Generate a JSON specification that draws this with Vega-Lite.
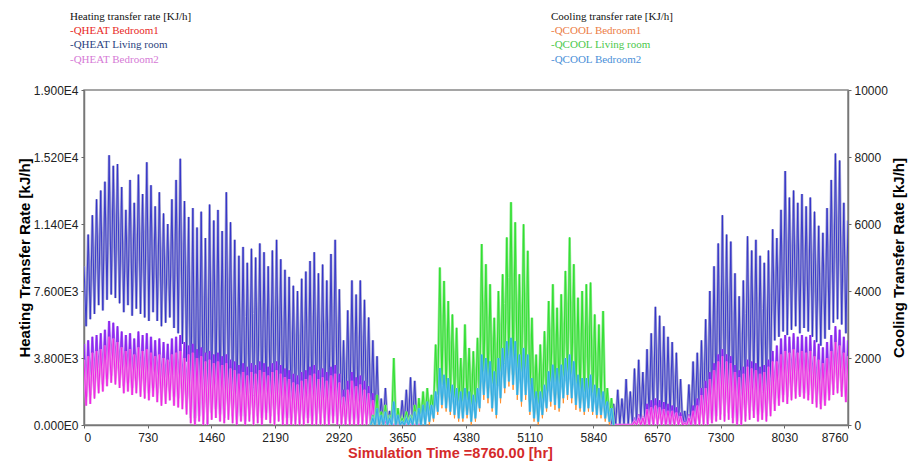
{
"$schema":"https://vega.github.io/schema/vega-lite/v6.json",
"autosize":{"type":"none"},
"padding":{"left":84,"top":90,"right":63,"bottom":38},
"width":764,"height":335,
"background":"white",
"datasets":{
"heat":[
{"t":0,"L":9000,"A":4600,"B":3700},{"t":24,"L":5600,"A":1600,"B":1100},{"t":48,"L":10800,"A":4800,"B":3900},{"t":72,"L":6000,"A":1700,"B":1200},{"t":96,"L":11900,"A":5000,"B":4100},{"t":120,"L":6300,"A":2000,"B":1500},{"t":144,"L":12800,"A":5100,"B":4200},{"t":168,"L":6800,"A":2200,"B":1800},{"t":192,"L":13300,"A":5200,"B":4300},{"t":216,"L":6500,"A":2300,"B":1900},{"t":240,"L":13800,"A":5400,"B":4500},{"t":264,"L":7100,"A":2600,"B":2200},{"t":288,"L":15300,"A":5900,"B":5000},{"t":312,"L":7400,"A":2800,"B":2400},{"t":336,"L":14700,"A":5800,"B":4900},{"t":360,"L":7200,"A":2700,"B":2300},{"t":384,"L":14800,"A":5600,"B":4700},{"t":408,"L":6900,"A":2500,"B":2100},{"t":432,"L":13500,"A":5300,"B":4400},{"t":456,"L":6400,"A":2200,"B":1800},{"t":480,"L":12200,"A":5100,"B":4200},{"t":504,"L":6800,"A":2400,"B":1900},{"t":528,"L":13900,"A":5200,"B":4300},{"t":552,"L":6200,"A":2100,"B":1700},{"t":576,"L":12600,"A":4900,"B":4000},{"t":600,"L":6600,"A":2300,"B":1800},{"t":624,"L":14200,"A":5300,"B":4400},{"t":648,"L":6300,"A":2000,"B":1600},{"t":672,"L":13100,"A":5100,"B":4200},{"t":696,"L":6100,"A":1900,"B":1500},{"t":720,"L":14900,"A":5200,"B":4300},{"t":744,"L":5900,"A":1800,"B":1400},{"t":768,"L":13600,"A":5000,"B":4100},{"t":792,"L":6400,"A":2100,"B":1600},{"t":816,"L":12400,"A":4800,"B":3900},{"t":840,"L":5900,"A":1800,"B":1300},{"t":864,"L":13200,"A":4900,"B":4000},{"t":888,"L":5600,"A":1600,"B":1100},{"t":912,"L":12000,"A":4700,"B":3800},{"t":936,"L":5800,"A":1700,"B":1200},{"t":960,"L":11400,"A":4600,"B":3700},{"t":984,"L":6100,"A":1900,"B":1400},{"t":1008,"L":12800,"A":4900,"B":4000},{"t":1032,"L":5500,"A":1600,"B":1100},{"t":1056,"L":13900,"A":5000,"B":4100},{"t":1080,"L":5200,"A":1500,"B":1000},{"t":1104,"L":15100,"A":5100,"B":4200},{"t":1128,"L":4600,"A":1400,"B":900},{"t":1152,"L":12700,"A":4700,"B":3800},{"t":1176,"L":3600,"A":1000,"B":600},{"t":1200,"L":11800,"A":4500,"B":4000},{"t":1224,"L":900,"A":400,"B":100},{"t":1248,"L":12300,"A":4600,"B":4100},{"t":1272,"L":400,"A":200,"B":0},{"t":1296,"L":11200,"A":4300,"B":3800},{"t":1320,"L":1200,"A":500,"B":200},{"t":1344,"L":12100,"A":4400,"B":3900},{"t":1368,"L":600,"A":300,"B":0},{"t":1392,"L":10600,"A":4100,"B":3600},{"t":1416,"L":0,"A":100,"B":0},{"t":1440,"L":12500,"A":4200,"B":3700},{"t":1464,"L":1500,"A":700,"B":300},{"t":1488,"L":11600,"A":4000,"B":3500},{"t":1512,"L":1800,"A":900,"B":400},{"t":1536,"L":12200,"A":4100,"B":3600},{"t":1560,"L":1300,"A":600,"B":200},{"t":1584,"L":11000,"A":3900,"B":3400},{"t":1608,"L":900,"A":400,"B":100},{"t":1632,"L":13200,"A":4000,"B":3500},{"t":1656,"L":1600,"A":800,"B":300},{"t":1680,"L":11500,"A":3700,"B":3200},{"t":1704,"L":1000,"A":500,"B":100},{"t":1728,"L":10500,"A":3600,"B":3100},{"t":1752,"L":700,"A":300,"B":0},{"t":1776,"L":9600,"A":3400,"B":2900},{"t":1800,"L":1100,"A":500,"B":200},{"t":1824,"L":10100,"A":3500,"B":3000},{"t":1848,"L":500,"A":200,"B":0},{"t":1872,"L":9200,"A":3300,"B":2800},{"t":1896,"L":1400,"A":600,"B":200},{"t":1920,"L":10000,"A":3500,"B":3000},{"t":1944,"L":800,"A":400,"B":0},{"t":1968,"L":9500,"A":3400,"B":2900},{"t":1992,"L":1200,"A":500,"B":100},{"t":2016,"L":10300,"A":3600,"B":3100},{"t":2040,"L":900,"A":400,"B":0},{"t":2064,"L":9800,"A":3500,"B":3000},{"t":2088,"L":1500,"A":700,"B":300},{"t":2112,"L":9000,"A":3300,"B":2800},{"t":2136,"L":1100,"A":500,"B":100},{"t":2160,"L":9900,"A":3500,"B":3000},{"t":2184,"L":700,"A":300,"B":0},{"t":2208,"L":10500,"A":3600,"B":3100},{"t":2232,"L":1300,"A":600,"B":200},{"t":2256,"L":9400,"A":3400,"B":2900},{"t":2280,"L":600,"A":300,"B":0},{"t":2304,"L":8800,"A":3200,"B":2700},{"t":2328,"L":1000,"A":400,"B":0},{"t":2352,"L":8400,"A":3100,"B":2600},{"t":2376,"L":400,"A":200,"B":0},{"t":2400,"L":7900,"A":2900,"B":2400},{"t":2424,"L":800,"A":300,"B":0},{"t":2448,"L":7600,"A":2800,"B":2300},{"t":2472,"L":300,"A":100,"B":0},{"t":2496,"L":8300,"A":3000,"B":2500},{"t":2520,"L":700,"A":300,"B":0},{"t":2544,"L":8700,"A":3100,"B":2600},{"t":2568,"L":1000,"A":400,"B":100},{"t":2592,"L":9300,"A":3300,"B":2800},{"t":2616,"L":500,"A":200,"B":0},{"t":2640,"L":9800,"A":3400,"B":2900},{"t":2664,"L":800,"A":300,"B":0},{"t":2688,"L":8600,"A":3100,"B":2600},{"t":2712,"L":400,"A":100,"B":0},{"t":2736,"L":9100,"A":3200,"B":2700},{"t":2760,"L":900,"A":400,"B":0},{"t":2784,"L":8200,"A":3000,"B":2500},{"t":2808,"L":600,"A":200,"B":0},{"t":2832,"L":9700,"A":3300,"B":2800},{"t":2856,"L":1100,"A":500,"B":100},{"t":2880,"L":10500,"A":3400,"B":2900},{"t":2904,"L":500,"A":200,"B":0},{"t":2928,"L":7700,"A":2900,"B":2400},{"t":2952,"L":300,"A":100,"B":0},{"t":2976,"L":4800,"A":2000,"B":1600},{"t":3000,"L":200,"A":0,"B":0},{"t":3024,"L":6500,"A":2500,"B":2000},{"t":3048,"L":600,"A":200,"B":0},{"t":3072,"L":8200,"A":3000,"B":2500},{"t":3096,"L":900,"A":300,"B":0},{"t":3120,"L":7400,"A":2700,"B":2200},{"t":3144,"L":400,"A":100,"B":0},{"t":3168,"L":8200,"A":2800,"B":2300},{"t":3192,"L":700,"A":200,"B":0},{"t":3216,"L":7100,"A":2500,"B":2000},{"t":3240,"L":300,"A":100,"B":0},{"t":3264,"L":6100,"A":2200,"B":1800},{"t":3288,"L":200,"A":0,"B":0},{"t":3312,"L":4800,"A":1800,"B":1400},{"t":3336,"L":100,"A":0,"B":0},{"t":3360,"L":3900,"A":1400,"B":1100},{"t":3384,"L":0,"A":0,"B":0},{"t":3408,"L":1500,"A":500,"B":400},{"t":3432,"L":0,"A":0,"B":0},{"t":3456,"L":2100,"A":300,"B":200},{"t":3480,"L":0,"A":0,"B":0},{"t":3504,"L":800,"A":0,"B":0},{"t":3528,"L":0,"A":0,"B":0},{"t":3552,"L":1200,"A":0,"B":0},{"t":3576,"L":0,"A":0,"B":0},{"t":3600,"L":600,"A":0,"B":0},{"t":3624,"L":0,"A":0,"B":0},{"t":3648,"L":1400,"A":0,"B":0},{"t":3672,"L":0,"A":0,"B":0},{"t":3696,"L":2000,"A":0,"B":0},{"t":3720,"L":0,"A":0,"B":0},{"t":3744,"L":2700,"A":0,"B":0},{"t":3768,"L":0,"A":0,"B":0},{"t":3792,"L":2500,"A":0,"B":0},{"t":3816,"L":0,"A":0,"B":0},{"t":3840,"L":1100,"A":0,"B":0},{"t":3864,"L":0,"A":0,"B":0},
{"t":4900,"L":null,"A":null,"B":null},
{"t":6048,"L":0,"A":0,"B":0},{"t":6072,"L":1200,"A":0,"B":0},{"t":6096,"L":0,"A":0,"B":0},{"t":6120,"L":2000,"A":0,"B":0},{"t":6144,"L":0,"A":0,"B":0},{"t":6168,"L":1500,"A":0,"B":0},{"t":6192,"L":0,"A":0,"B":0},{"t":6216,"L":2600,"A":0,"B":0},{"t":6240,"L":0,"A":0,"B":0},{"t":6264,"L":1900,"A":0,"B":0},{"t":6288,"L":0,"A":0,"B":0},{"t":6312,"L":3200,"A":300,"B":200},{"t":6336,"L":0,"A":0,"B":0},{"t":6360,"L":3700,"A":600,"B":400},{"t":6384,"L":200,"A":0,"B":0},{"t":6408,"L":3000,"A":500,"B":400},{"t":6432,"L":100,"A":0,"B":0},{"t":6456,"L":4300,"A":1200,"B":900},{"t":6480,"L":300,"A":0,"B":0},{"t":6504,"L":5200,"A":1400,"B":1000},{"t":6528,"L":400,"A":0,"B":0},{"t":6552,"L":6700,"A":1500,"B":1100},{"t":6576,"L":600,"A":100,"B":0},{"t":6600,"L":6200,"A":1400,"B":1000},{"t":6624,"L":300,"A":0,"B":0},{"t":6648,"L":5600,"A":1300,"B":900},{"t":6672,"L":200,"A":0,"B":0},{"t":6696,"L":5000,"A":1200,"B":800},{"t":6720,"L":400,"A":0,"B":0},{"t":6744,"L":4700,"A":1100,"B":800},{"t":6768,"L":100,"A":0,"B":0},{"t":6792,"L":4100,"A":1000,"B":700},{"t":6816,"L":0,"A":0,"B":0},{"t":6840,"L":2600,"A":700,"B":500},{"t":6864,"L":0,"A":0,"B":0},{"t":6888,"L":800,"A":200,"B":100},{"t":6912,"L":0,"A":0,"B":0},{"t":6936,"L":2300,"A":600,"B":400},{"t":6960,"L":0,"A":0,"B":0},{"t":6984,"L":3600,"A":1100,"B":800},{"t":7008,"L":200,"A":0,"B":0},{"t":7032,"L":4100,"A":1500,"B":1100},{"t":7056,"L":300,"A":100,"B":0},{"t":7080,"L":4800,"A":2100,"B":1700},{"t":7104,"L":500,"A":200,"B":0},{"t":7128,"L":6000,"A":2500,"B":2100},{"t":7152,"L":400,"A":100,"B":0},{"t":7176,"L":7600,"A":3000,"B":2600},{"t":7200,"L":800,"A":300,"B":100},{"t":7224,"L":9000,"A":3500,"B":3100},{"t":7248,"L":1200,"A":500,"B":200},{"t":7272,"L":10300,"A":4000,"B":3600},{"t":7296,"L":1600,"A":600,"B":300},{"t":7320,"L":11900,"A":4300,"B":3900},{"t":7344,"L":1400,"A":500,"B":200},{"t":7368,"L":10800,"A":4000,"B":3600},{"t":7392,"L":1800,"A":700,"B":300},{"t":7416,"L":10400,"A":3900,"B":3500},{"t":7440,"L":1100,"A":400,"B":100},{"t":7464,"L":8600,"A":3400,"B":3000},{"t":7488,"L":700,"A":200,"B":0},{"t":7512,"L":7300,"A":3100,"B":2700},{"t":7536,"L":1000,"A":300,"B":0},{"t":7560,"L":8200,"A":3300,"B":2900},{"t":7584,"L":1500,"A":500,"B":200},{"t":7608,"L":10700,"A":3700,"B":3300},{"t":7632,"L":1900,"A":700,"B":300},{"t":7656,"L":9900,"A":3600,"B":3200},{"t":7680,"L":2200,"A":800,"B":400},{"t":7704,"L":10500,"A":3500,"B":3100},{"t":7728,"L":1700,"A":600,"B":200},{"t":7752,"L":9600,"A":3300,"B":2900},{"t":7776,"L":2000,"A":700,"B":300},{"t":7800,"L":9200,"A":3400,"B":3000},{"t":7824,"L":1500,"A":500,"B":200},{"t":7848,"L":9900,"A":3700,"B":3300},{"t":7872,"L":2300,"A":900,"B":500},{"t":7896,"L":11100,"A":4200,"B":3600},{"t":7920,"L":4800,"A":1200,"B":800},{"t":7944,"L":10600,"A":4500,"B":3600},{"t":7968,"L":5000,"A":1500,"B":1100},{"t":7992,"L":12200,"A":4900,"B":4000},{"t":8016,"L":5300,"A":1700,"B":1300},{"t":8040,"L":14400,"A":5100,"B":4200},{"t":8064,"L":5100,"A":1600,"B":1200},{"t":8088,"L":12900,"A":5000,"B":4100},{"t":8112,"L":5400,"A":1800,"B":1400},{"t":8136,"L":13300,"A":5200,"B":4300},{"t":8160,"L":5600,"A":1900,"B":1500},{"t":8184,"L":12600,"A":5000,"B":4100},{"t":8208,"L":5200,"A":1700,"B":1600},{"t":8232,"L":13100,"A":5100,"B":4200},{"t":8256,"L":5500,"A":1800,"B":1500},{"t":8280,"L":12400,"A":5000,"B":4100},{"t":8304,"L":5300,"A":1700,"B":1400},{"t":8328,"L":12900,"A":5100,"B":4200},{"t":8352,"L":5000,"A":1500,"B":1200},{"t":8376,"L":12100,"A":4800,"B":3900},{"t":8400,"L":4700,"A":1300,"B":1000},{"t":8424,"L":11300,"A":4600,"B":3700},{"t":8448,"L":4500,"A":1200,"B":900},{"t":8472,"L":10900,"A":4400,"B":3500},{"t":8496,"L":4900,"A":1400,"B":1100},{"t":8520,"L":12300,"A":4700,"B":3800},{"t":8544,"L":5400,"A":1700,"B":1400},{"t":8568,"L":13900,"A":5100,"B":4200},{"t":8592,"L":5800,"A":2000,"B":1700},{"t":8616,"L":15400,"A":5600,"B":4700},{"t":8640,"L":6000,"A":2100,"B":1800},{"t":8664,"L":15000,"A":5400,"B":4500},{"t":8688,"L":5700,"A":1900,"B":1600},{"t":8712,"L":12600,"A":5000,"B":4100},{"t":8736,"L":5200,"A":1600,"B":1300},{"t":8760,"L":11600,"A":4800,"B":3900}
],
"cool":[
{"t":3288,"G":0,"O":0,"C":0},{"t":3312,"G":300,"O":100,"C":200},{"t":3336,"G":0,"O":0,"C":0},{"t":3360,"G":900,"O":400,"C":500},{"t":3384,"G":0,"O":0,"C":0},{"t":3408,"G":400,"O":200,"C":300},{"t":3432,"G":0,"O":0,"C":0},{"t":3456,"G":600,"O":300,"C":400},{"t":3480,"G":0,"O":0,"C":0},{"t":3504,"G":300,"O":100,"C":200},{"t":3528,"G":0,"O":0,"C":0},{"t":3552,"G":2000,"O":600,"C":700},{"t":3576,"G":0,"O":0,"C":0},{"t":3600,"G":500,"O":200,"C":300},{"t":3624,"G":0,"O":0,"C":0},{"t":3648,"G":200,"O":100,"C":100},{"t":3672,"G":0,"O":0,"C":0},{"t":3696,"G":400,"O":100,"C":200},{"t":3720,"G":0,"O":0,"C":0},{"t":3744,"G":300,"O":100,"C":200},{"t":3768,"G":0,"O":0,"C":0},{"t":3792,"G":600,"O":300,"C":400},{"t":3816,"G":0,"O":0,"C":0},{"t":3840,"G":800,"O":400,"C":500},{"t":3864,"G":100,"O":0,"C":0},{"t":3888,"G":1000,"O":500,"C":600},{"t":3912,"G":200,"O":0,"C":0},{"t":3936,"G":1100,"O":600,"C":700},{"t":3960,"G":300,"O":0,"C":100},{"t":3984,"G":900,"O":500,"C":600},{"t":4008,"G":400,"O":100,"C":200},{"t":4032,"G":2400,"O":900,"C":1000},{"t":4056,"G":900,"O":300,"C":400},{"t":4080,"G":4700,"O":1550,"C":1700},{"t":4104,"G":1200,"O":500,"C":600},{"t":4128,"G":4300,"O":1350,"C":1500},{"t":4152,"G":1000,"O":400,"C":500},{"t":4176,"G":3700,"O":1250,"C":1400},{"t":4200,"G":800,"O":300,"C":400},{"t":4224,"G":3300,"O":1050,"C":1200},{"t":4248,"G":700,"O":200,"C":300},{"t":4272,"G":2900,"O":950,"C":1100},{"t":4296,"G":500,"O":100,"C":200},{"t":4320,"G":2000,"O":850,"C":1000},{"t":4344,"G":400,"O":100,"C":200},{"t":4368,"G":3000,"O":950,"C":1100},{"t":4392,"G":600,"O":200,"C":300},{"t":4416,"G":2300,"O":850,"C":1000},{"t":4440,"G":300,"O":0,"C":100},{"t":4464,"G":2200,"O":750,"C":900},{"t":4488,"G":500,"O":100,"C":200},{"t":4512,"G":2600,"O":950,"C":1100},{"t":4536,"G":700,"O":400,"C":500},{"t":4560,"G":5400,"O":1950,"C":2100},{"t":4584,"G":1300,"O":750,"C":900},{"t":4608,"G":4800,"O":1850,"C":2000},{"t":4632,"G":1100,"O":650,"C":800},{"t":4656,"G":4200,"O":1750,"C":1900},{"t":4680,"G":900,"O":400,"C":500},{"t":4704,"G":3200,"O":1450,"C":1600},{"t":4728,"G":600,"O":200,"C":300},{"t":4752,"G":4000,"O":1850,"C":2000},{"t":4776,"G":1000,"O":650,"C":800},{"t":4800,"G":4500,"O":2150,"C":2300},{"t":4824,"G":1400,"O":950,"C":1100},{"t":4848,"G":5600,"O":2350,"C":2500},{"t":4872,"G":1700,"O":1150,"C":1300},{"t":4896,"G":6650,"O":2450,"C":2600},{"t":4920,"G":1500,"O":1050,"C":1200},{"t":4944,"G":6050,"O":2350,"C":2500},{"t":4968,"G":1200,"O":750,"C":900},{"t":4992,"G":4500,"O":1950,"C":2100},{"t":5016,"G":1000,"O":550,"C":700},{"t":5040,"G":5990,"O":2150,"C":2300},{"t":5064,"G":1200,"O":750,"C":900},{"t":5088,"G":5200,"O":1950,"C":2100},{"t":5112,"G":700,"O":300,"C":400},{"t":5136,"G":3200,"O":1250,"C":1400},{"t":5160,"G":400,"O":100,"C":200},{"t":5184,"G":2100,"O":850,"C":1000},{"t":5208,"G":300,"O":0,"C":100},{"t":5232,"G":2400,"O":850,"C":1000},{"t":5256,"G":500,"O":200,"C":300},{"t":5280,"G":2800,"O":1050,"C":1200},{"t":5304,"G":800,"O":400,"C":500},{"t":5328,"G":3700,"O":1450,"C":1600},{"t":5352,"G":1000,"O":550,"C":700},{"t":5376,"G":4200,"O":1650,"C":1800},{"t":5400,"G":900,"O":450,"C":600},{"t":5424,"G":3500,"O":1550,"C":1700},{"t":5448,"G":800,"O":400,"C":500},{"t":5472,"G":3900,"O":1650,"C":1800},{"t":5496,"G":1100,"O":650,"C":800},{"t":5520,"G":4600,"O":1850,"C":2000},{"t":5544,"G":1300,"O":750,"C":900},{"t":5568,"G":5600,"O":1950,"C":2100},{"t":5592,"G":1200,"O":650,"C":800},{"t":5616,"G":4800,"O":1750,"C":1900},{"t":5640,"G":900,"O":450,"C":600},{"t":5664,"G":3800,"O":1350,"C":1500},{"t":5688,"G":800,"O":400,"C":500},{"t":5712,"G":4000,"O":1250,"C":1400},{"t":5736,"G":700,"O":300,"C":400},{"t":5760,"G":4200,"O":1250,"C":1400},{"t":5784,"G":800,"O":400,"C":500},{"t":5808,"G":4250,"O":1350,"C":1500},{"t":5832,"G":600,"O":300,"C":400},{"t":5856,"G":3300,"O":1050,"C":1200},{"t":5880,"G":500,"O":200,"C":300},{"t":5904,"G":3000,"O":950,"C":1100},{"t":5928,"G":600,"O":200,"C":300},{"t":5952,"G":3400,"O":850,"C":1000},{"t":5976,"G":300,"O":100,"C":200},{"t":6000,"G":1100,"O":550,"C":700},{"t":6024,"G":200,"O":0,"C":100},{"t":6048,"G":800,"O":350,"C":500},{"t":6072,"G":0,"O":0,"C":0}
]
},
"layer":[
{
"data":{"name":"heat"},
"layer":[
{"mark":{"type":"line","strokeWidth":2.6,"color":"#a2a2d4","clip":true},
"encoding":{
"x":{"field":"t","type":"quantitative","scale":{"domain":[0,8760],"nice":false,"zero":false},
"axis":{"values":[0,730,1460,2190,2920,3650,4380,5110,5840,6570,7300,8030,8760],"format":"d","grid":false,"title":"Simulation Time =8760.00 [hr]","titleX":366,"titleColor":"#d42a2a","titleFont":"Liberation Sans","titleFontSize":14.5,"titleFontWeight":"bold","titlePadding":3,"labelFont":"Liberation Sans","labelFontSize":12,"labelColor":"#222","labelPadding":4,"tickSize":3,"tickColor":"#666","domainColor":"#777","domainWidth":1.5}},
"y":{"field":"L","type":"quantitative","scale":{"domain":[0,19000],"nice":false},
"axis":{"values":[0,3800,7600,11400,15200,19000],"grid":false,"labelExpr":"datum.value==0?'0.000E0':datum.value<10000?format(datum.value/1000,'.3f')+'E3':format(datum.value/10000,'.3f')+'E4'","title":"Heating Transfer Rate [kJ/h]","titleColor":"#000","titleFont":"Liberation Sans","titleFontSize":15,"titleFontWeight":"bold","titlePadding":1,"labelFont":"Liberation Sans","labelFontSize":12,"labelColor":"#222","labelPadding":3,"tickSize":3,"tickColor":"#666","domainColor":"#777","domainWidth":1.5}}
}},
{"transform":[{"fold":["L"],"as":["k","v"]}],
"mark":{"type":"line","strokeWidth":0.9,"clip":true},
"encoding":{
"x":{"field":"t","type":"quantitative"},
"y":{"field":"v","type":"quantitative","scale":{"domain":[0,19000],"nice":false}},
"color":{"field":"k","type":"nominal","scale":{"domain":["A","L","B"],"range":["#8a22f0","#3030c8","#f024e8"]},
"legend":{"orient":"none","legendX":-14,"legendY":-79,"title":"Heating transfer rate [KJ/h]","titleFont":"Liberation Serif","titleFontSize":11,"titleFontWeight":"normal","titleColor":"#111","titlePadding":3,"labelFont":"Liberation Serif","labelFontSize":11,"labelOffset":-11,"symbolSize":0,"symbolOpacity":0,"symbolStrokeWidth":0,"rowPadding":2.5,
"labelExpr":"datum.value=='A'?'-QHEAT Bedroom1':datum.value=='L'?'-QHEAT Living room':'-QHEAT Bedroom2'",
"encode":{"labels":{"update":{"fill":{"signal":"datum.value=='A'?'#e8281e':datum.value=='L'?'#2b3f7e':'#d67ad6'"}}}}}}
}},
{"mark":{"type":"line","strokeWidth":2.4,"color":"#a860f0","clip":true},
"encoding":{"x":{"field":"t","type":"quantitative"},"y":{"field":"A","type":"quantitative","scale":{"domain":[0,19000],"nice":false}}}},
{"transform":[{"fold":["A"],"as":["k","v"]}],
"mark":{"type":"line","strokeWidth":1,"clip":true},
"encoding":{
"x":{"field":"t","type":"quantitative"},
"y":{"field":"v","type":"quantitative","scale":{"domain":[0,19000],"nice":false}},
"color":{"field":"k","type":"nominal","scale":{"domain":["A","L","B"],"range":["#8a22f0","#3030c8","#f024e8"]},
"legend":{"orient":"none","legendX":-14,"legendY":-79,"title":"Heating transfer rate [KJ/h]","titleFont":"Liberation Serif","titleFontSize":11,"titleFontWeight":"normal","titleColor":"#111","titlePadding":3,"labelFont":"Liberation Serif","labelFontSize":11,"labelOffset":-11,"symbolSize":0,"symbolOpacity":0,"symbolStrokeWidth":0,"rowPadding":2.5,
"labelExpr":"datum.value=='A'?'-QHEAT Bedroom1':datum.value=='L'?'-QHEAT Living room':'-QHEAT Bedroom2'",
"encode":{"labels":{"update":{"fill":{"signal":"datum.value=='A'?'#e8281e':datum.value=='L'?'#2b3f7e':'#d67ad6'"}}}}}}
}},
{"mark":{"type":"line","strokeWidth":2.4,"color":"#e894e4","clip":true},
"encoding":{"x":{"field":"t","type":"quantitative"},"y":{"field":"B","type":"quantitative","scale":{"domain":[0,19000],"nice":false}}}},
{"transform":[{"fold":["B"],"as":["k","v"]}],
"mark":{"type":"line","strokeWidth":1,"clip":true},
"encoding":{
"x":{"field":"t","type":"quantitative"},
"y":{"field":"v","type":"quantitative","scale":{"domain":[0,19000],"nice":false}},
"color":{"field":"k","type":"nominal","scale":{"domain":["A","L","B"],"range":["#8a22f0","#3030c8","#f024e8"]},
"legend":{"orient":"none","legendX":-14,"legendY":-79,"title":"Heating transfer rate [KJ/h]","titleFont":"Liberation Serif","titleFontSize":11,"titleFontWeight":"normal","titleColor":"#111","titlePadding":3,"labelFont":"Liberation Serif","labelFontSize":11,"labelOffset":-11,"symbolSize":0,"symbolOpacity":0,"symbolStrokeWidth":0,"rowPadding":2.5,
"labelExpr":"datum.value=='A'?'-QHEAT Bedroom1':datum.value=='L'?'-QHEAT Living room':'-QHEAT Bedroom2'",
"encode":{"labels":{"update":{"fill":{"signal":"datum.value=='A'?'#e8281e':datum.value=='L'?'#2b3f7e':'#d67ad6'"}}}}}}
}}
]
},
{
"data":{"name":"cool"},
"layer":[
{"mark":{"type":"line","strokeWidth":2.6,"color":"#8ae88a","clip":true},
"encoding":{"x":{"field":"t","type":"quantitative"},
"y":{"field":"G","type":"quantitative","scale":{"domain":[0,10000],"nice":false},
"axis":{"orient":"right","values":[0,2000,4000,6000,8000,10000],"format":"d","grid":false,"title":"Cooling Transfer Rate [kJ/h]","titleAngle":270,"titleColor":"#000","titleFont":"Liberation Sans","titleFontSize":15,"titleFontWeight":"bold","titlePadding":19,"labelFont":"Liberation Sans","labelFontSize":12,"labelColor":"#222","labelPadding":3,"tickSize":3,"tickColor":"#666","domainColor":"#777","domainWidth":1.5}}}},
{"transform":[{"fold":["G","O"],"as":["k","v"]}],
"mark":{"type":"line","strokeWidth":1,"clip":true},
"encoding":{
"x":{"field":"t","type":"quantitative"},
"y":{"field":"v","type":"quantitative","scale":{"domain":[0,10000],"nice":false}},
"color":{"field":"k","type":"nominal","scale":{"domain":["O","G","C"],"range":["#ff9030","#30e030","#30ace0"]},
"legend":{"orient":"none","legendX":467,"legendY":-79,"title":"Cooling transfer rate [KJ/h]","titleFont":"Liberation Serif","titleFontSize":11,"titleFontWeight":"normal","titleColor":"#111","titlePadding":3,"labelFont":"Liberation Serif","labelFontSize":11,"labelOffset":-11,"symbolSize":0,"symbolOpacity":0,"symbolStrokeWidth":0,"rowPadding":2.5,
"labelExpr":"datum.value=='O'?'-QCOOL Bedroom1':datum.value=='G'?'-QCOOL Living room':'-QCOOL Bedroom2'",
"encode":{"labels":{"update":{"fill":{"signal":"datum.value=='O'?'#ec7d45':datum.value=='G'?'#4cc84c':'#4a8fd8'"}}}}}}
}},
{"mark":{"type":"line","strokeWidth":2.4,"color":"#6ac4ea","clip":true},
"encoding":{"x":{"field":"t","type":"quantitative"},"y":{"field":"C","type":"quantitative","scale":{"domain":[0,10000],"nice":false}}}},
{"transform":[{"fold":["C"],"as":["k","v"]}],
"mark":{"type":"line","strokeWidth":1,"clip":true},
"encoding":{
"x":{"field":"t","type":"quantitative"},
"y":{"field":"v","type":"quantitative","scale":{"domain":[0,10000],"nice":false}},
"color":{"field":"k","type":"nominal","scale":{"domain":["O","G","C"],"range":["#ff9030","#30e030","#30ace0"]},
"legend":{"orient":"none","legendX":467,"legendY":-79,"title":"Cooling transfer rate [KJ/h]","titleFont":"Liberation Serif","titleFontSize":11,"titleFontWeight":"normal","titleColor":"#111","titlePadding":3,"labelFont":"Liberation Serif","labelFontSize":11,"labelOffset":-11,"symbolSize":0,"symbolOpacity":0,"symbolStrokeWidth":0,"rowPadding":2.5,
"labelExpr":"datum.value=='O'?'-QCOOL Bedroom1':datum.value=='G'?'-QCOOL Living room':'-QCOOL Bedroom2'",
"encode":{"labels":{"update":{"fill":{"signal":"datum.value=='O'?'#ec7d45':datum.value=='G'?'#4cc84c':'#4a8fd8'"}}}}}}
}}
]
}
],
"resolve":{"scale":{"y":"independent","color":"independent"}},
"config":{"view":{"stroke":"#888","strokeWidth":1.5}}
}
